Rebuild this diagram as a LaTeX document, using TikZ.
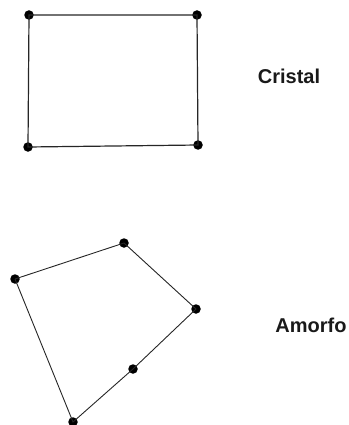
\documentclass[tikz,border=0pt]{standalone}
\usepackage{fontspec}
\setmainfont{Liberation Sans}
\begin{document}
\begin{tikzpicture}[x=1pt,y=-1pt,
  pt/.style={circle,fill=black,inner sep=0pt,minimum size=9.5pt},
  edge/.style={draw=black!85,line width=0.9pt},
  lbl/.style={font=\fontsize{20}{24}\selectfont\bfseries,text=black!90,inner sep=0pt}]
\useasboundingbox (0,0) rectangle (348,425);
% Cristal
\node[pt] (c1) at (29,15) {};
\node[pt] (c2) at (197,15) {};
\node[pt] (c3) at (198,145) {};
\node[pt] (c4) at (28,147) {};
\draw[edge,line width=1.2pt] (c1.center) -- (c2.center) -- (c3.center) -- (c4.center) -- cycle;
\node[lbl] (cristal) at (289,76) {Cristal};
% Amorfo
\node[pt] (a1) at (124,243) {};
\node[pt] (a2) at (15,279) {};
\node[pt] (a3) at (196,309) {};
\node[pt] (a4) at (133,369) {};
\node[pt] (a5) at (73,422) {};
\draw[edge] (a2.center) -- (a1.center) -- (a3.center) -- (a4.center) -- (a5.center) -- (a2.center);
\node[lbl] (amorfo) at (311,325) {Amorfo};
\end{tikzpicture}
\end{document}
